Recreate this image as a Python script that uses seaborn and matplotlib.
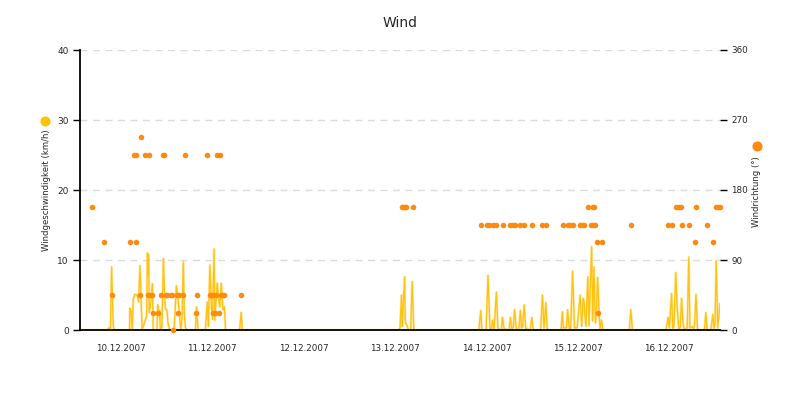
import numpy as np
import pandas as pd
import seaborn as sns
import matplotlib.pyplot as plt
import matplotlib.dates as mdates
from matplotlib.lines import Line2D

sns.set_style('white')
plt.rcParams['font.family'] = ['DejaVu Sans']

# wind speed (km/h), hours after 10.12.2007 00:00
speed_hours = [0, 7.1, 7.6, 8.0, 8.3, 8.7, 8.9,
               13.0, 13.1, 13.4, 13.7, 14.0, 14.4, 15.0, 15.4, 15.75, 16.3,
               17.5, 17.7, 17.9, 18.0, 18.2, 18.6, 19.0, 19.2,
               20.2, 20.4, 20.6, 20.9, 21.1, 21.5, 21.9, 22.2, 22.4, 22.8, 23.1, 23.5,
               24.7, 25.3, 25.6, 26.0, 26.2, 26.5, 26.8, 27.1, 27.4, 27.7, 28.1,
               30.3, 30.6, 30.9, 31.1,
               32.9, 33.4, 33.7, 34.1, 34.5, 34.8, 35.2, 35.4, 36.0, 36.3, 36.7, 37.1, 37.5, 37.9, 38.2,
               41.9, 42.3, 42.6,
               83.7, 84.0, 84.4, 84.6, 85.2, 85.4, 85.8, 86.2, 86.8, 87.2, 87.6, 87.8,
               104.7, 105.2, 105.5, 106.6, 107.1, 107.6, 108.0, 108.3, 108.7, 109.3, 109.7,
               110.6, 110.9, 111.3, 112.6, 113.0, 113.3, 113.7, 114.1, 114.5,
               115.2, 115.6, 115.9, 116.2, 116.6, 117.0, 118.2, 118.6, 119.0,
               120.9, 121.4, 121.8, 122.3, 122.6, 122.9,
               126.3, 126.6, 126.9, 127.7, 128.0, 128.4, 128.8, 129.3, 129.8, 130.5,
               131.3, 131.7, 132.1, 132.3, 132.8, 133.3, 133.6, 134.3, 134.6, 134.9,
               135.3, 135.6, 135.9, 136.3, 136.5, 136.9, 137.2, 137.4,
               144.2, 144.6, 145.0,
               153.8, 154.4, 154.7, 155.3, 155.6, 155.9, 156.4, 156.7, 157.2, 157.6, 157.9,
               158.3, 158.6, 159.4, 159.8, 160.1, 160.7, 161.0, 161.3, 161.7, 162.1,
               163.9, 164.3, 164.6, 165.6, 166.1, 166.4, 166.7, 167.0, 167.4, 168.0]
speed_kmh = [0, 0, 0.3, 0.2, 9.0, 0.8, 0,
             0, 3.1, 2.8, 0, 4.5, 5.1, 5.0, 4.0, 9.2, 0,
             2.0, 11.0, 8.0, 10.8, 2.5, 4.0, 6.6, 0,
             0, 3.6, 2.0, 2.8, 0, 0.5, 10.2, 5.0, 3.0, 2.9, 1.0, 0,
             0, 6.3, 5.2, 2.9, 1.5, 0, 2.0, 9.7, 2.0, 0.3, 0,
             0, 3.3, 0.5, 0,
             0, 4.0, 0.5, 9.3, 3.3, 1.5, 11.6, 1.4, 6.7, 4.8, 3.3, 6.7, 2.9, 3.3, 0,
             0, 2.5, 0,
             0, 0.3, 5.0, 0.5, 7.6, 1.0, 0.7, 0, 0, 6.9, 0.2, 0,
             0, 2.8, 0, 0, 7.8, 0.3, 0, 1.4, 0, 5.4, 0.2,
             0, 1.8, 0.2, 0, 1.8, 0.2, 0.3, 2.9, 0.2,
             0, 2.8, 0.3, 0.5, 3.6, 0.2, 0, 1.8, 0,
             0, 5.0, 0.3, 3.9, 0.3, 0,
             0, 2.6, 0.3, 0.3, 2.9, 0.3, 0, 8.4, 0.3, 0.3,
             5.0, 0.5, 4.5, 4.0, 0.5, 7.6, 0.6, 11.9, 1.3, 9.0,
             1.0, 3.0, 7.5, 2.0, 0.2, 1.4, 0.2, 0,
             0, 2.9, 0,
             0, 1.8, 0.3, 5.2, 0.2, 0.5, 8.2, 3.6, 0, 0.5, 4.5,
             1.0, 0, 0.3, 10.4, 0.3, 0.5, 0.2, 0.5, 5.1, 0,
             0, 2.5, 0, 0, 2.2, 0.2, 1.0, 9.9, 0.3, 3.8]

# wind direction (degrees), hours after 10.12.2007 00:00
dir_hours = [3.1, 6.4, 8.5, 13.1, 14.3, 14.8, 14.8, 15.75, 16.1, 17.1, 17.8, 18.1, 18.2,
             18.8, 19.2, 20.5, 21.2, 21.7, 22.05, 22.5, 22.9, 23.8, 24.15, 24.5,
             25.5, 25.8, 26.1, 27.1, 27.5, 30.4, 30.8,
             33.4, 34.0, 34.5, 34.8, 35.0, 35.4, 35.7, 36.0, 36.5, 36.75, 36.9, 37.35, 37.9, 42.3,
             84.4, 84.8, 85.2, 85.6, 87.3,
             105.3, 106.8, 107.4, 108.3, 109.3, 111.0, 112.9, 113.7, 114.3, 115.6, 116.6,
             118.65, 121.3, 122.3,
             126.7, 128.0, 128.6, 129.5, 131.25, 131.8, 132.3, 134.1, 134.6, 135.3,
             133.4, 134.6, 135.0, 135.7, 137.0, 136.1,
             144.7, 154.3, 155.4, 158.1, 159.8, 164.6,
             156.4, 157.2, 157.8, 161.8, 167.0, 167.6, 168.0,
             161.4, 166.1]
dir_deg = [157.5, 112.5, 45, 112.5, 225, 225, 112.5, 45, 247.5, 225, 45, 225, 45,
           45, 22.5, 22.5, 45, 225, 225, 45, 45, 45, 45, 0,
           45, 22.5, 45, 45, 225, 22.5, 45,
           225, 45, 45, 22.5, 45, 22.5, 45, 225, 22.5, 225, 45, 45, 45, 45,
           157.5, 157.5, 157.5, 157.5, 157.5,
           135, 135, 135, 135, 135, 135, 135, 135, 135, 135, 135,
           135, 135, 135,
           135, 135, 135, 135, 135, 135, 135, 135, 135, 135,
           157.5, 157.5, 157.5, 112.5, 112.5, 22.5,
           135, 135, 135, 135, 135, 135,
           157.5, 157.5, 157.5, 157.5, 157.5, 157.5, 157.5,
           112.5, 112.5]

days = ['10.12.2007', '11.12.2007', '12.12.2007', '13.12.2007',
        '14.12.2007', '15.12.2007', '16.12.2007']

start = pd.Timestamp('2007-12-10 00:00')
speed = pd.DataFrame({'time': start + pd.to_timedelta(speed_hours, unit='h'), 'kmh': speed_kmh})
wdir = pd.DataFrame({'time': start + pd.to_timedelta(dir_hours, unit='h'), 'deg': dir_deg})

yellow = '#ffc20e'
orange = '#ff8a10'

fig = plt.figure(figsize=(8, 4), dpi=100)
ax = fig.add_axes([0.1, 0.175, 0.8, 0.7])
ax2 = ax.twinx()

sns.lineplot(data=speed, x='time', y='kmh', color=yellow, lw=1.8, alpha=0.35, ax=ax)
sns.lineplot(data=speed, x='time', y='kmh', color=yellow, lw=0.9, ax=ax)
sns.scatterplot(data=wdir, x='time', y='deg', color=orange, s=16, linewidth=0,
                ax=ax2, clip_on=False, zorder=5)

ax.set_ylim(0, 40)
ax.set_yticks([0, 10, 20, 30, 40])
ax2.set_ylim(0, 360)
ax2.set_yticks([0, 90, 180, 270, 360])
ax.set_xlim(start, start + pd.Timedelta(days=7))

day_starts = [start + pd.Timedelta(days=i) for i in range(1, 8)]
ax.set_xticks(day_starts)
ax.set_xticklabels([])
label_pos = [start + pd.Timedelta(days=i, hours=10, minutes=40) for i in range(7)]
ax.set_xticks(label_pos, minor=True)
ax.set_xticklabels(days, minor=True)
ax.tick_params(axis='x', which='major', length=5, width=1, color='black', direction='out')
ax.tick_params(axis='x', which='minor', length=0, pad=10, labelsize=6.3)
ax.tick_params(axis='y', length=5, width=1, color='black', direction='out', labelsize=6.5, pad=3)
ax2.tick_params(axis='y', length=5, width=1, color='black', direction='out', labelsize=6.3, pad=3)

for g in [10, 20, 30, 40]:
    ax.axhline(g, color='#dcdcdc', lw=1, ls=(0, (5, 4)), zorder=0)

for a in (ax, ax2):
    for side in ['top', 'right']:
        a.spines[side].set_visible(False)
    a.set_xlabel('')
ax2.spines['left'].set_visible(False)
ax2.spines['bottom'].set_visible(False)
for side in ['left', 'bottom']:
    ax.spines[side].set_color('black')
    ax.spines[side].set_linewidth(1.3)
    ax.spines[side].set_zorder(6)

ax.set_ylabel('')
ax2.set_ylabel('')
fig.text(0.058, 0.524, 'Windgeschwindigkeit (km/h)', rotation=90, ha='center', va='center', fontsize=6.1)
fig.text(0.946, 0.522, 'Windrichtung (°)', rotation=90, ha='center', va='center', fontsize=6.1)
fig.add_artist(Line2D([0.0565], [1 - 121 / 400], marker='o', color=yellow, markersize=6.3,
                      transform=fig.transFigure))
fig.add_artist(Line2D([0.9465], [1 - 146 / 400], marker='o', color=orange, markersize=6.3,
                      transform=fig.transFigure))

fig.suptitle('Wind', y=0.96, fontsize=10)

fig.savefig('out.png', dpi=100)
